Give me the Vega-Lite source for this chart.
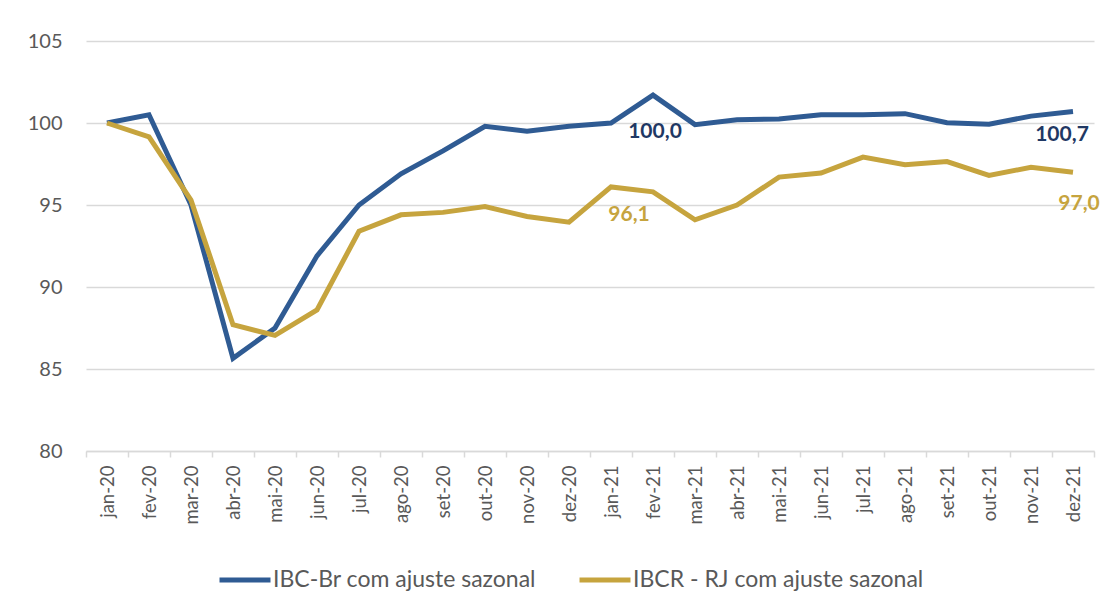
{
  "$schema": "https://vega.github.io/schema/vega-lite/v6.json",
  "width": 1008,
  "height": 410,
  "autosize": "none",
  "padding": {"left": 86, "top": 41, "right": 10, "bottom": 157},
  "background": "white",
  "datasets": {
    "series": [
      {"month": "jan-20", "series": "IBC-Br com ajuste sazonal", "value": 100.0},
      {"month": "fev-20", "series": "IBC-Br com ajuste sazonal", "value": 100.5},
      {"month": "mar-20", "series": "IBC-Br com ajuste sazonal", "value": 95.0},
      {"month": "abr-20", "series": "IBC-Br com ajuste sazonal", "value": 85.65},
      {"month": "mai-20", "series": "IBC-Br com ajuste sazonal", "value": 87.5},
      {"month": "jun-20", "series": "IBC-Br com ajuste sazonal", "value": 91.9},
      {"month": "jul-20", "series": "IBC-Br com ajuste sazonal", "value": 95.0},
      {"month": "ago-20", "series": "IBC-Br com ajuste sazonal", "value": 96.9},
      {"month": "set-20", "series": "IBC-Br com ajuste sazonal", "value": 98.3},
      {"month": "out-20", "series": "IBC-Br com ajuste sazonal", "value": 99.8},
      {"month": "nov-20", "series": "IBC-Br com ajuste sazonal", "value": 99.5},
      {"month": "dez-20", "series": "IBC-Br com ajuste sazonal", "value": 99.8},
      {"month": "jan-21", "series": "IBC-Br com ajuste sazonal", "value": 100.0},
      {"month": "fev-21", "series": "IBC-Br com ajuste sazonal", "value": 101.7},
      {"month": "mar-21", "series": "IBC-Br com ajuste sazonal", "value": 99.9},
      {"month": "abr-21", "series": "IBC-Br com ajuste sazonal", "value": 100.2},
      {"month": "mai-21", "series": "IBC-Br com ajuste sazonal", "value": 100.25},
      {"month": "jun-21", "series": "IBC-Br com ajuste sazonal", "value": 100.5},
      {"month": "jul-21", "series": "IBC-Br com ajuste sazonal", "value": 100.5},
      {"month": "ago-21", "series": "IBC-Br com ajuste sazonal", "value": 100.57},
      {"month": "set-21", "series": "IBC-Br com ajuste sazonal", "value": 100.02},
      {"month": "out-21", "series": "IBC-Br com ajuste sazonal", "value": 99.93},
      {"month": "nov-21", "series": "IBC-Br com ajuste sazonal", "value": 100.42},
      {"month": "dez-21", "series": "IBC-Br com ajuste sazonal", "value": 100.7},
      {"month": "jan-20", "series": "IBCR - RJ com ajuste sazonal", "value": 100.0},
      {"month": "fev-20", "series": "IBCR - RJ com ajuste sazonal", "value": 99.15},
      {"month": "mar-20", "series": "IBCR - RJ com ajuste sazonal", "value": 95.3},
      {"month": "abr-20", "series": "IBCR - RJ com ajuste sazonal", "value": 87.7},
      {"month": "mai-20", "series": "IBCR - RJ com ajuste sazonal", "value": 87.05},
      {"month": "jun-20", "series": "IBCR - RJ com ajuste sazonal", "value": 88.6},
      {"month": "jul-20", "series": "IBCR - RJ com ajuste sazonal", "value": 93.4},
      {"month": "ago-20", "series": "IBCR - RJ com ajuste sazonal", "value": 94.4},
      {"month": "set-20", "series": "IBCR - RJ com ajuste sazonal", "value": 94.55},
      {"month": "out-20", "series": "IBCR - RJ com ajuste sazonal", "value": 94.9},
      {"month": "nov-20", "series": "IBCR - RJ com ajuste sazonal", "value": 94.3},
      {"month": "dez-20", "series": "IBCR - RJ com ajuste sazonal", "value": 93.95},
      {"month": "jan-21", "series": "IBCR - RJ com ajuste sazonal", "value": 96.1},
      {"month": "fev-21", "series": "IBCR - RJ com ajuste sazonal", "value": 95.8},
      {"month": "mar-21", "series": "IBCR - RJ com ajuste sazonal", "value": 94.1},
      {"month": "abr-21", "series": "IBCR - RJ com ajuste sazonal", "value": 95.0},
      {"month": "mai-21", "series": "IBCR - RJ com ajuste sazonal", "value": 96.7},
      {"month": "jun-21", "series": "IBCR - RJ com ajuste sazonal", "value": 96.95},
      {"month": "jul-21", "series": "IBCR - RJ com ajuste sazonal", "value": 97.92},
      {"month": "ago-21", "series": "IBCR - RJ com ajuste sazonal", "value": 97.46},
      {"month": "set-21", "series": "IBCR - RJ com ajuste sazonal", "value": 97.65},
      {"month": "out-21", "series": "IBCR - RJ com ajuste sazonal", "value": 96.8},
      {"month": "nov-21", "series": "IBCR - RJ com ajuste sazonal", "value": 97.3},
      {"month": "dez-21", "series": "IBCR - RJ com ajuste sazonal", "value": 97.0}
    ],
    "labels": [
      {"id": "a", "month": "jan-21", "value": 100.0, "label": "100,0", "kind": "br"},
      {"id": "b", "month": "dez-21", "value": 100.7, "label": "100,7", "kind": "br"},
      {"id": "c", "month": "jan-21", "value": 96.1, "label": "96,1", "kind": "rj"},
      {"id": "d", "month": "dez-21", "value": 97.0, "label": "97,0", "kind": "rj"}
    ]
  },
  "encoding": {
    "x": {
      "field": "month",
      "type": "ordinal",
      "scale": {
        "type": "band",
        "paddingInner": 0,
        "paddingOuter": 0,
        "domain": ["jan-20","fev-20","mar-20","abr-20","mai-20","jun-20","jul-20","ago-20","set-20","out-20","nov-20","dez-20","jan-21","fev-21","mar-21","abr-21","mai-21","jun-21","jul-21","ago-21","set-21","out-21","nov-21","dez-21"]
      },
      "axis": {
        "title": null,
        "labelAngle": -90,
        "labelAlign": "right",
        "labelBaseline": "middle",
        "labelFont": "Lato",
        "labelFontSize": 18.5,
        "labelColor": "#595959",
        "labelPadding": 8,
        "tickBand": "extent",
        "tickColor": "#D9D9D9",
        "tickWidth": 1.5,
        "tickSize": 6,
        "domainColor": "#D9D9D9",
        "domainWidth": 1.5,
        "grid": false
      }
    },
    "y": {
      "field": "value",
      "type": "quantitative",
      "scale": {"domain": [80, 105], "nice": false, "zero": false},
      "axis": {
        "title": null,
        "values": [80, 85, 90, 95, 100, 105],
        "labelFont": "Lato",
        "labelFontSize": 20,
        "labelColor": "#595959",
        "labelPadding": 24,
        "ticks": false,
        "domain": false,
        "grid": true,
        "gridColor": "#D9D9D9",
        "gridWidth": 1.5
      }
    }
  },
  "layer": [
    {
      "data": {"name": "series"},
      "mark": {"type": "line", "strokeWidth": 5, "strokeJoin": "miter", "strokeCap": "butt"},
      "encoding": {
        "color": {
          "field": "series",
          "type": "nominal",
          "scale": {
            "domain": ["IBC-Br com ajuste sazonal", "IBCR - RJ com ajuste sazonal"],
            "range": ["#2F5B93", "#C6A43E"]
          },
          "legend": {
            "title": null,
            "orient": "none",
            "direction": "horizontal",
            "legendX": 131,
            "legendY": 511,
            "symbolType": "stroke",
            "symbolSize": 2600,
            "symbolStrokeWidth": 5,
            "labelFont": "Lato",
            "labelFontSize": 23,
            "labelColor": "#595959",
            "labelOffset": 0,
            "columnPadding": 33,
            "padding": 0,
            "labelLimit": 400
          }
        }
      }
    },
    {
      "data": {"name": "labels"},
      "transform": [{"filter": "datum.id == 'a'"}],
      "mark": {"type": "text", "font": "Lato", "fontSize": 21, "fontWeight": "bold", "color": "#1F3864", "dx": 44, "dy": 9},
      "encoding": {"text": {"field": "label"}}
    },
    {
      "data": {"name": "labels"},
      "transform": [{"filter": "datum.id == 'b'"}],
      "mark": {"type": "text", "font": "Lato", "fontSize": 21, "fontWeight": "bold", "color": "#1F3864", "dx": -11, "dy": 23},
      "encoding": {"text": {"field": "label"}}
    },
    {
      "data": {"name": "labels"},
      "transform": [{"filter": "datum.id == 'c'"}],
      "mark": {"type": "text", "font": "Lato", "fontSize": 21, "fontWeight": "bold", "color": "#C6A43E", "dx": 18, "dy": 28},
      "encoding": {"text": {"field": "label"}}
    },
    {
      "data": {"name": "labels"},
      "transform": [{"filter": "datum.id == 'd'"}],
      "mark": {"type": "text", "font": "Lato", "fontSize": 21, "fontWeight": "bold", "color": "#C6A43E", "dx": 6, "dy": 32},
      "encoding": {"text": {"field": "label"}}
    }
  ],
  "config": {"view": {"stroke": null}}
}
